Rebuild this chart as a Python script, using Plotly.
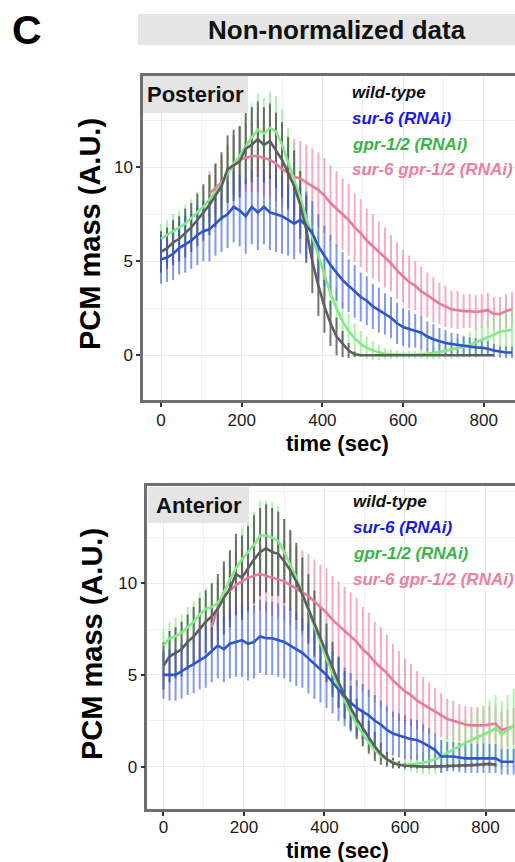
from __future__ import annotations

import plotly.graph_objects as go

WIDTH = 515
HEIGHT = 862
FONT = "Liberation Sans, Arial, sans-serif"

# time axis: one sample every 15 s, 0..870 s
TIME = list(range(0, 885, 15))
WT_LEN = 56        # wild-type recordings stop at 825 s
PINK_START = 8     # double RNAi traces start at 120 s

X_TICKS = [0, 200, 400, 600, 800]
Y_TICKS = [0, 5, 10]

# ---- Posterior PCM mass (A.U.): mean and s.d. ----
POST_WT = [5.5, 5.7, 6.0, 6.2, 6.5, 6.8, 7.2, 7.6, 8.0, 8.5,
           9.0, 9.9, 10.1, 10.3, 11.0, 11.2, 11.5, 11.2, 11.4, 10.9,
           10.4, 9.7, 9.0, 8.0, 6.7, 5.0, 3.7, 2.6, 1.7, 1.0,
           0.6, 0.25, 0.05, 0, 0, 0, 0, 0, 0, 0,
           0, 0, 0, 0, 0, 0, 0, 0, 0, 0,
           0, 0, 0, 0, 0, 0]
POST_WT_SD = [1.1, 1.1, 1.2, 1.2, 1.3, 1.3, 1.4, 1.5, 1.6, 1.7,
              1.8, 1.8, 1.9, 1.9, 1.9, 2.0, 2.0, 2.0, 2.0, 2.0,
              2.0, 1.9, 1.9, 1.8, 1.8, 1.7, 1.6, 1.4, 1.2, 1.0,
              0.7, 0.4, 0.15, 0, 0, 0, 0, 0, 0, 0,
              0, 0, 0, 0, 0, 0, 0, 0, 0, 0,
              0, 0, 0, 0, 0, 0]
POST_SUR6 = [5.1, 5.2, 5.4, 5.7, 5.9, 6.1, 6.4, 6.6, 6.7, 7.0,
             7.3, 7.5, 7.9, 7.7, 7.4, 7.9, 7.6, 7.9, 7.6, 7.5,
             7.4, 7.2, 7.0, 7.2, 6.9, 6.5, 5.8, 5.3, 4.8, 4.4,
             4.0, 3.7, 3.4, 3.1, 2.9, 2.6, 2.4, 2.2, 2.0, 1.7,
             1.5, 1.4, 1.3, 1.2, 1.0, 0.85, 0.75, 0.65, 0.6, 0.55,
             0.5, 0.45, 0.42, 0.4, 0.35, 0.25, 0.18, 0.15, 0.15]
POST_SUR6_SD = [1.3, 1.3, 1.4, 1.4, 1.5, 1.5, 1.6, 1.6, 1.7, 1.7,
                1.8, 1.8, 1.9, 1.9, 2.0, 2.0, 2.0, 2.0, 2.0, 2.0,
                2.0, 1.9, 1.9, 1.8, 1.8, 1.7, 1.7, 1.6, 1.6, 1.5,
                1.5, 1.4, 1.4, 1.3, 1.3, 1.2, 1.2, 1.1, 1.1, 1.1,
                1.0, 1.0, 0.9, 0.9, 0.8, 0.8, 0.7, 0.7, 0.6, 0.6,
                0.5, 0.5, 0.5, 0.4, 0.4, 0.35, 0.3, 0.3, 0.3]
POST_GPR = [6.2, 6.4, 6.6, 6.8, 7.0, 7.3, 7.6, 7.9, 8.3, 8.7,
            9.1, 9.7, 10.2, 10.6, 11.1, 11.6, 12.0, 11.8, 12.1, 11.9,
            11.2, 10.3, 9.4, 8.4, 7.3, 6.3, 5.2, 4.2, 3.3, 2.5,
            1.8, 1.3, 0.9, 0.6, 0.4, 0.25, 0.15, 0.08, 0.05, 0.03,
            0.02, 0.02, 0.03, 0.05, 0.08, 0.12, 0.18, 0.24, 0.3, 0.36,
            0.45, 0.55, 0.68, 0.8, 0.95, 1.1, 1.25, 1.3, 1.35]
POST_GPR_SD = [0.8, 0.8, 0.9, 0.9, 1.0, 1.0, 1.1, 1.1, 1.2, 1.2,
               1.3, 1.4, 1.5, 1.6, 1.7, 1.8, 1.9, 1.9, 1.9, 1.9,
               1.9, 1.8, 1.8, 1.7, 1.6, 1.5, 1.4, 1.3, 1.2, 1.1,
               1.0, 0.9, 0.8, 0.7, 0.6, 0.5, 0.4, 0.3, 0.25, 0.2,
               0.2, 0.2, 0.2, 0.25, 0.3, 0.35, 0.4, 0.45, 0.5, 0.55,
               0.6, 0.7, 0.8, 0.85, 0.9, 0.95, 1.0, 1.05, 1.1]
POST_DOUBLE = [8.6, 8.9, 9.2, 9.7, 10.1, 10.4, 10.5, 10.6, 10.6, 10.5,
               10.4, 10.2, 9.9, 9.7, 9.5, 9.4, 9.2, 9.0, 8.8, 8.5,
               8.1, 7.8, 7.5, 7.2, 6.8, 6.5, 6.1, 5.8, 5.5, 5.2,
               4.9, 4.5, 4.2, 3.9, 3.7, 3.4, 3.2, 2.95, 2.75, 2.6,
               2.45, 2.4, 2.35, 2.35, 2.3, 2.35, 2.4, 2.2, 2.2, 2.35,
               2.45]
POST_DOUBLE_SD = [1.2, 1.3, 1.4, 1.5, 1.6, 1.7, 1.8, 1.9, 1.9, 2.0,
                  2.0, 2.0, 2.0, 2.0, 2.0, 2.0, 2.0, 2.0, 2.0, 2.0,
                  2.0, 2.0, 1.9, 1.9, 1.8, 1.8, 1.7, 1.7, 1.6, 1.6,
                  1.5, 1.5, 1.4, 1.4, 1.3, 1.3, 1.2, 1.2, 1.1, 1.1,
                  1.0, 1.0, 0.9, 0.9, 0.9, 0.9, 0.9, 0.9, 0.9, 0.9,
                  0.9]

# ---- Anterior PCM mass (A.U.): mean and s.d. ----
ANT_WT = [5.5, 6.0, 6.2, 6.4, 6.8, 7.1, 7.5, 7.9, 8.2, 8.6,
          9.2, 9.7, 10.5, 10.3, 10.8, 11.3, 11.7, 11.9, 11.7, 11.6,
          11.2, 10.7, 10.1, 9.4, 8.6, 7.8, 7.0, 6.2, 5.3, 4.6,
          3.9, 3.2, 2.6, 2.1, 1.6, 1.1, 0.7, 0.4, 0.2, 0.1,
          0.05, 0.02, 0.0, 0.0, 0.0, 0.0, 0.02, 0.03, 0.05, 0.05,
          0.05, 0.08, 0.1, 0.12, 0.15, 0.1]
ANT_WT_SD = [1.3, 1.4, 1.4, 1.5, 1.5, 1.6, 1.7, 1.7, 1.8, 1.9,
             2.0, 2.1, 2.2, 2.3, 2.3, 2.4, 2.4, 2.4, 2.4, 2.3,
             2.3, 2.2, 2.1, 2.0, 1.9, 1.8, 1.7, 1.6, 1.5, 1.4,
             1.3, 1.2, 1.1, 1.0, 0.9, 0.8, 0.6, 0.4, 0.3, 0.2,
             0.15, 0.1, 0.1, 0.1, 0.1, 0.1, 0.1, 0.1, 0.1, 0.1,
             0.1, 0.1, 0.1, 0.1, 0.1, 0.1]
ANT_SUR6 = [5.0, 5.0, 5.0, 5.2, 5.4, 5.6, 5.8, 6.0, 6.3, 6.6,
            6.4, 6.7, 6.8, 6.9, 6.7, 6.8, 7.1, 7.0, 7.0, 6.9,
            6.8, 6.6, 6.4, 6.2, 5.9, 5.6, 5.3, 5.0, 4.6, 4.2,
            3.8, 3.5, 3.2, 3.0, 2.8, 2.5, 2.3, 2.0, 1.8, 1.7,
            1.6, 1.5, 1.45, 1.3, 1.1, 0.9, 0.55, 0.55, 0.55, 0.5,
            0.45, 0.45, 0.45, 0.45, 0.45, 0.45, 0.27, 0.27, 0.27]
ANT_SUR6_SD = [1.3, 1.4, 1.4, 1.5, 1.5, 1.6, 1.6, 1.7, 1.7, 1.8,
               1.8, 1.9, 1.9, 2.0, 2.0, 2.0, 2.0, 2.0, 2.0, 2.0,
               2.0, 2.0, 2.0, 1.9, 1.9, 1.9, 1.8, 1.8, 1.7, 1.7,
               1.6, 1.6, 1.5, 1.5, 1.4, 1.4, 1.3, 1.3, 1.2, 1.2,
               1.2, 1.1, 1.1, 1.0, 1.0, 0.9, 0.9, 0.8, 0.8, 0.8,
               0.8, 0.8, 0.8, 0.8, 0.8, 0.8, 0.7, 0.7, 0.7]
ANT_GPR = [6.6, 7.0, 7.1, 7.3, 7.6, 7.9, 8.3, 8.6, 8.7, 8.9,
           9.5, 10.2, 10.8, 11.3, 11.7, 12.1, 12.6, 12.6, 12.5, 12.3,
           11.7, 11.0, 10.3, 9.4, 8.5, 7.6, 6.8, 5.9, 5.1, 4.3,
           3.6, 2.9, 2.3, 1.8, 1.3, 0.9, 0.6, 0.4, 0.25, 0.12,
           0.1, 0.12, 0.15, 0.2, 0.3, 0.4, 0.55, 0.75, 0.95, 1.1,
           1.3, 1.45, 1.6, 1.75, 1.9, 2.1, 1.75, 2.0, 2.25]
ANT_GPR_SD = [0.9, 0.9, 1.0, 1.0, 1.1, 1.1, 1.2, 1.2, 1.3, 1.3,
              1.4, 1.5, 1.6, 1.7, 1.8, 1.8, 1.9, 1.9, 1.9, 1.9,
              1.8, 1.8, 1.7, 1.6, 1.5, 1.4, 1.3, 1.2, 1.1, 1.0,
              0.9, 0.8, 0.7, 0.6, 0.5, 0.4, 0.3, 0.3, 0.2, 0.2,
              0.3, 0.4, 0.5, 0.6, 0.7, 0.8, 0.9, 1.0, 1.1, 1.2,
              1.3, 1.4, 1.5, 1.6, 1.7, 1.8, 1.85, 1.9, 2.0]
ANT_DOUBLE = [7.6, 8.7, 9.3, 9.6, 9.9, 10.1, 10.3, 10.4, 10.5, 10.4,
              10.3, 10.2, 10.1, 9.9, 9.7, 9.5, 9.3, 9.0, 8.7, 8.4,
              8.0, 7.7, 7.4, 7.1, 6.8, 6.4, 6.1, 5.7, 5.4, 5.1,
              4.7, 4.4, 4.1, 3.9, 3.6, 3.4, 3.2, 3.0, 2.8, 2.6,
              2.5, 2.4, 2.3, 2.25, 2.25, 2.25, 2.3, 2.35, 2.0, 2.1,
              2.2]
ANT_DOUBLE_SD = [1.0, 1.3, 1.5, 1.6, 1.7, 1.8, 1.9, 2.0, 2.0, 2.0,
                 2.1, 2.1, 2.2, 2.2, 2.2, 2.3, 2.3, 2.3, 2.3, 2.4,
                 2.4, 2.4, 2.4, 2.4, 2.4, 2.3, 2.3, 2.2, 2.2, 2.1,
                 2.0, 1.9, 1.8, 1.7, 1.6, 1.5, 1.4, 1.3, 1.2, 1.1,
                 1.1, 1.0, 1.0, 1.0, 1.0, 1.0, 1.0, 1.0, 1.0, 1.0,
                 1.0]

LEGEND_LABELS = ["wild-type", "sur-6 (RNAi)", "gpr-1/2 (RNAi)", "sur-6 gpr-1/2 (RNAi)"]
LEGEND_COLORS = ["#111111", "#1a1ae6", "#3bb34a", "#ec7f9f"]

# line colour, error-bar colour per genotype
STYLE = {
    "wt": ("#5e5e5e", "rgba(70,70,70,0.75)"),
    "sur6": ("#2d55cc", "rgba(50,85,215,0.6)"),
    "gpr": ("#84ea84", "rgba(140,236,140,0.7)"),
    "double": ("#e87a9b", "rgba(240,128,165,0.65)"),
}


def px_x(x: float) -> float:
    return x / WIDTH


def px_y(y: float) -> float:
    return 1 - y / HEIGHT


def panel_series(wt, wt_sd, sur6, sur6_sd, gpr, gpr_sd, double, double_sd):
    return {
        "wt": (TIME[:WT_LEN], wt, wt_sd),
        "sur6": (TIME, sur6, sur6_sd),
        "gpr": (TIME, gpr, gpr_sd),
        "double": (TIME[PINK_START:], double, double_sd),
    }


def add_panel(fig: go.Figure, series: dict, xref: str, yref: str) -> None:
    # error bars first, lines on top
    for key in ["double", "gpr", "wt", "sur6"]:
        times, mean, sd = series[key]
        fig.add_trace(go.Scatter(
            x=times, y=mean, mode="markers",
            marker={"size": 1, "color": "rgba(0,0,0,0)"},
            error_y={"type": "data", "array": sd, "visible": True,
                     "color": STYLE[key][1], "thickness": 2, "width": 0},
            xaxis=xref, yaxis=yref, hoverinfo="skip", showlegend=False,
        ))
    for key in ["double", "gpr", "sur6", "wt"]:
        times, mean, _ = series[key]
        fig.add_trace(go.Scatter(
            x=times, y=mean, mode="lines",
            line={"color": STYLE[key][0], "width": 2.6},
            xaxis=xref, yaxis=yref, hoverinfo="skip", showlegend=False,
        ))


def axis_common() -> dict:
    return dict(
        showline=True, linecolor="#6e6e6e", linewidth=2.5,
        ticks="outside", ticklen=4, tickwidth=1.5, tickcolor="#333333",
        showgrid=True, gridcolor="#e9e9e9", gridwidth=1.2, zeroline=False,
        tickfont={"family": FONT, "size": 17, "color": "#1a1a1a"},
        automargin=False, fixedrange=True,
    )


def text_note(fig: go.Figure, x: float, y: float, text: str, size: float, color: str = "#000000",
              xanchor: str = "center", angle: float = 0) -> None:
    fig.add_annotation(x=px_x(x), y=px_y(y), xref="paper", yref="paper",
                       xanchor=xanchor, yanchor="middle", text=text, textangle=angle,
                       showarrow=False, font={"family": FONT, "size": size, "color": color})


def add_panel_decor(fig: go.Figure, *, strip: tuple, label: str, legend_x: float,
                    legend_y: list[float], ytitle_xy: tuple, xtitle_xy: tuple) -> None:
    x0, y0, x1, y1 = strip
    fig.add_shape(type="rect", xref="paper", yref="paper",
                  x0=px_x(x0), x1=px_x(x1), y0=px_y(y1), y1=px_y(y0),
                  fillcolor="#e5e5e5", line={"width": 0}, layer="above")
    text_note(fig, (x0 + x1) / 2, (y0 + y1) / 2, f"<b>{label}</b>", 22, "#111111")
    for text, color, y in zip(LEGEND_LABELS, LEGEND_COLORS, legend_y):
        text_note(fig, legend_x, y, f"<b><i>{text}</i></b>", 17, color, xanchor="left")
    text_note(fig, ytitle_xy[0], ytitle_xy[1], "<b>PCM mass (A.U.)</b>", 29, angle=-90)
    text_note(fig, xtitle_xy[0], xtitle_xy[1], "<b>time (sec)</b>", 22)


def build_figure() -> go.Figure:
    fig = go.Figure()
    add_panel(fig, panel_series(POST_WT, POST_WT_SD, POST_SUR6, POST_SUR6_SD,
                                POST_GPR, POST_GPR_SD, POST_DOUBLE, POST_DOUBLE_SD), "x", "y")
    add_panel(fig, panel_series(ANT_WT, ANT_WT_SD, ANT_SUR6, ANT_SUR6_SD,
                                ANT_GPR, ANT_GPR_SD, ANT_DOUBLE, ANT_DOUBLE_SD), "x2", "y2")

    xminor = {"showgrid": True, "gridcolor": "#f1f1f1", "gridwidth": 1.2, "dtick": 100, "tick0": 0}
    yminor = {"showgrid": True, "gridcolor": "#f1f1f1", "gridwidth": 1.2, "dtick": 2.5, "tick0": 0}
    fig.update_layout(
        xaxis={**axis_common(), "domain": [px_x(143), 1], "range": [-44.6, 877.3],
               "tickvals": X_TICKS, "mirror": True, "anchor": "y", "minor": xminor,
               "ticklabelstandoff": -1},
        yaxis={**axis_common(), "domain": [px_y(400), px_y(76)], "range": [-2.38, 14.86],
               "tickvals": Y_TICKS, "anchor": "x", "minor": yminor},
        xaxis2={**axis_common(), "domain": [px_x(147.3), 1], "range": [-40.2, 873.3],
                "tickvals": X_TICKS, "mirror": True, "anchor": "y2", "minor": xminor,
                "ticklabelstandoff": -3},
        yaxis2={**axis_common(), "domain": [px_y(809), px_y(486)], "range": [-2.31, 15.3],
                "tickvals": Y_TICKS, "anchor": "x2", "minor": yminor},
        width=WIDTH, height=HEIGHT,
        margin={"l": 0, "r": 0, "t": 0, "b": 0},
        plot_bgcolor="white", paper_bgcolor="white",
        showlegend=False,
    )

    # header
    fig.add_shape(type="rect", xref="paper", yref="paper",
                  x0=px_x(138), x1=1, y0=px_y(45), y1=px_y(14),
                  fillcolor="#e5e5e5", line={"width": 0})
    text_note(fig, 337, 30, "<b>Non-normalized data</b>", 26, "#111111")
    text_note(fig, 10, 30, "<b>C</b>", 41, xanchor="left")

    add_panel_decor(fig, strip=(143, 76, 248, 113), label="Posterior", legend_x=350,
                    legend_y=[93, 118.5, 144, 169.5], ytitle_xy=(90, 234), xtitle_xy=(337, 444))
    add_panel_decor(fig, strip=(148, 487, 249, 523), label="Anterior", legend_x=351,
                    legend_y=[501, 527, 553, 579], ytitle_xy=(92, 644), xtitle_xy=(337, 850))
    return fig


def main() -> None:
    fig = build_figure()
    # drop the browser's default body margin so the figure sits at the page corner
    fig.write_html(
        "out.html",
        config={"displayModeBar": False},
        post_script="document.body.style.margin='0';document.body.style.overflow='hidden';",
    )


if __name__ == "__main__":
    main()
